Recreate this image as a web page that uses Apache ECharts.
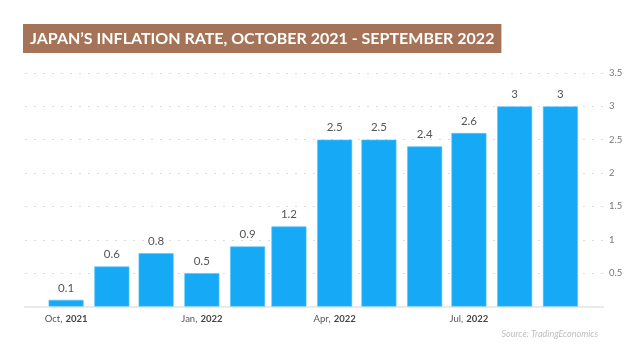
<!DOCTYPE html>
<html>
<head>
<meta charset="utf-8">
<script src="https://cdn.jsdelivr.net/npm/echarts@6/dist/echarts.min.js"></script>
<style>
  html, body { margin: 0; padding: 0; background: #fff; }
  #chart { width: 629px; height: 348px; }
</style>
</head>
<body>
<div id="chart"></div>
<script>
// Monthly CPI readings (year, month index, percent)
const months = [
  [2021, 9], [2021, 10], [2021, 11], [2022, 0], [2022, 1], [2022, 2],
  [2022, 3], [2022, 4], [2022, 5], [2022, 6], [2022, 7], [2022, 8]
];
const inflation = [0.1, 0.6, 0.8, 0.5, 0.9, 1.2, 2.5, 2.5, 2.4, 2.6, 3, 3];
// months whose first day carries an axis label
const labelMonthIdx = [0, 3, 6, 9];
const monthNames = ['Jan', 'Feb', 'Mar', 'Apr', 'May', 'Jun', 'Jul', 'Aug', 'Sep', 'Oct', 'Nov', 'Dec'];
const yTicks = { min: 0, max: 3.5, interval: 0.5 };

const ts = (y, m, d) => new Date(y, m, d || 1).getTime();
const seriesData = months.map((ym, i) => [ts(ym[0], ym[1]), inflation[i]]);
const firstTs = seriesData[0][0];
const lastTs = seriesData[seriesData.length - 1][0];

const chart = echarts.init(document.getElementById('chart'));
chart.setOption({
  backgroundColor: '#ffffff',
  animation: false,
  textStyle: { fontFamily: 'Lato, sans-serif' },
  title: [{
    text: 'JAPAN\u2019S INFLATION RATE, OCTOBER 2021 - SEPTEMBER 2022',
    left: 23, top: 24,
    backgroundColor: '#a57458',
    padding: [6, 7, 5, 7],
    textStyle: { color: '#fff', fontSize: 16, lineHeight: 18, fontWeight: 'bold', fontFamily: 'Lato, sans-serif' }
  }, {
    text: 'Source: TradingEconomics',
    right: 26, top: 325,
    textStyle: { color: '#bdbdbd', fontSize: 9, fontStyle: 'italic', fontWeight: 'normal' }
  }],
  grid: { left: 25, right: 26, top: 73, bottom: 41.5 },
  xAxis: {
    type: 'time',
    // bar overflow padding widens this range by about half a bar on each side
    min: ts(2021, 8, 15),
    max: ts(2022, 8, 18),
    splitNumber: 12,
    axisLine: { lineStyle: { color: '#eaeaea', width: 2 } },
    axisTick: { show: false },
    splitLine: { show: false },
    axisLabel: {
      margin: 6,
      hideOverlap: false,
      showMinLabel: false,
      showMaxLabel: false,
      formatter: v => {
        const d = new Date(v);
        if (v < firstTs || v > lastTs) return '';
        if (d.getDate() !== 1 || labelMonthIdx.indexOf(d.getMonth()) < 0) return '';
        return '{m|' + monthNames[d.getMonth()] + ',} {y|' + d.getFullYear() + '}';
      },
      rich: {
        m: { color: '#555', fontSize: 9.5 },
        y: { color: '#444', fontSize: 9.5, fontWeight: 'bold' }
      }
    }
  },
  yAxis: {
    type: 'value',
    position: 'right',
    min: yTicks.min, max: yTicks.max, interval: yTicks.interval,
    axisLine: { show: false },
    axisTick: { show: false },
    splitLine: { lineStyle: { color: '#dcdcdc', type: [2, 7], width: 1 } },
    axisLabel: {
      margin: 6,
      color: '#777',
      fontSize: 9.5,
      formatter: v => (v === 0 ? '' : String(v))
    }
  },
  series: [{
    type: 'bar',
    data: seriesData,
    barWidth: 35,
    itemStyle: { color: '#16aaf6', borderColor: '#5cc4f7', borderWidth: 0.6 },
    label: {
      show: true,
      position: 'top',
      distance: 6,
      color: '#555',
      fontSize: 11.5,
      formatter: p => String(p.value[1])
    }
  }]
});
</script>
</body>
</html>
